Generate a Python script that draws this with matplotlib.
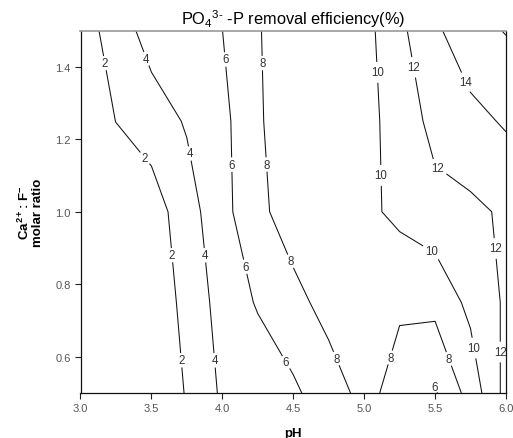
import numpy as np
import matplotlib
matplotlib.use("Agg")
import matplotlib.pyplot as plt

# --- data -------------------------------------------------------------
ph = [3.0, 3.25, 3.5, 3.75, 4.0, 4.25, 4.5, 4.75, 5.0, 5.25, 5.5, 5.75, 6.0]
ratio = [0.5, 0.75, 1.0, 1.25, 1.5]
# removal efficiency (%) rows follow `ratio`, columns follow `ph`
eff_r050 = [0.3, 0.4, 0.85, 2.1, 4.31, 4.73, 5.62, 7.2, 8.5, 7.36, 5.8, 8.77, 12.62]
eff_r075 = [0.3, 0.4, 0.5, 2.63, 4.76, 6.18, 7.5, 8.57, 8.8, 8.22, 8.58, 10.5, 12.29]
eff_r100 = [0.5, 0.7, 0.98, 3.16, 5.33, 7.6, 8.8, 9.2, 9.5, 10.5, 11.2, 11.6, 12.27]
eff_r125 = [0.8, 2.02, 3.0, 4.19, 5.43, 7.8, 9.0, 9.3, 9.6, 10.51, 12.77, 13.4, 14.23]
eff_r150 = [1.0, 2.92, 4.85, 5.4, 5.99, 7.93, 8.6, 9.0, 9.3, 11.55, 13.65, 15.3, 16.1]
levels = [2, 4, 6, 8, 10, 12, 14, 16]

x_ticks = [3.0, 3.5, 4.0, 4.5, 5.0, 5.5, 6.0]
y_ticks = [0.6, 0.8, 1.0, 1.2, 1.4]

# label placement (layout only)
label_pos = [
    (3.17, 1.41), (3.46, 1.15), (3.64, 0.88), (3.70, 0.59),
    (3.45, 1.42), (3.76, 1.16), (3.88, 0.88), (3.94, 0.59),
    (4.02, 1.42), (4.07, 1.13), (4.18, 0.85), (4.45, 0.585), (5.48, 0.52),
    (4.27, 1.41), (4.30, 1.13), (4.43, 0.855), (4.81, 0.596), (5.20, 0.596), (5.61, 0.596),
    (5.12, 1.385), (5.10, 1.10), (5.47, 0.885), (5.76, 0.623),
    (5.33, 1.397), (5.52, 1.121), (5.96, 0.90), (5.96, 0.613),
    (5.73, 1.36),
]

# --- plot -------------------------------------------------------------
plt.rcParams['font.family'] = ['Liberation Sans', 'DejaVu Sans']
plt.rcParams['mathtext.fontset'] = 'custom'
plt.rcParams['mathtext.rm'] = 'Liberation Sans'
plt.rcParams['mathtext.it'] = 'Liberation Sans'
plt.rcParams['mathtext.bf'] = 'Liberation Sans:bold'

fig = plt.figure(figsize=(5.13, 4.39), dpi=100)
ax = fig.add_axes([80.5 / 513, 1 - 394 / 439, (506 - 80.5) / 513, (394 - 31.5) / 439])

X, Y = np.meshgrid(ph, ratio)
Z = np.array([eff_r050, eff_r075, eff_r100, eff_r125, eff_r150])

cs = ax.contour(X, Y, Z, levels=levels, colors='#111111', linewidths=0.75)
labels = ax.clabel(cs, levels=levels[:-1], inline=True, fontsize=8.3, fmt='%d',
                   colors='#333333', manual=label_pos, inline_spacing=4)
for t in labels:
    t.set_rotation(0)

ax.set_xlim(3.0, 6.0)
ax.set_ylim(0.5, 1.5)
ax.set_xticks(x_ticks)
ax.set_xticklabels([f"{v:.1f}" for v in x_ticks])
ax.set_yticks(y_ticks)
ax.set_yticklabels([f"{v:.1f}" for v in y_ticks])
ax.tick_params(direction='out', length=4, width=0.8, labelsize=8,
               labelcolor='#555555', color='#222222', pad=3)

for side in ['left', 'bottom', 'right']:
    ax.spines[side].set_color('#111111')
    ax.spines[side].set_linewidth(0.9)
ax.spines['top'].set_color('#999999')
ax.spines['top'].set_linewidth(1.2)

ax.set_title(r"PO$_4$$^{3\text{-}}$ -P removal efficiency(%)", fontsize=11.8, pad=5)
ax.set_xlabel("pH", fontsize=9.5, fontweight='bold', labelpad=10)
ax.set_ylabel("Ca$^{\\mathbf{2+}}$: F$^{\\mathbf{-}}$\nmolar ratio", fontsize=9.5,
              fontweight='bold', labelpad=8, linespacing=1.0)

fig.savefig("out.png", dpi=100)
